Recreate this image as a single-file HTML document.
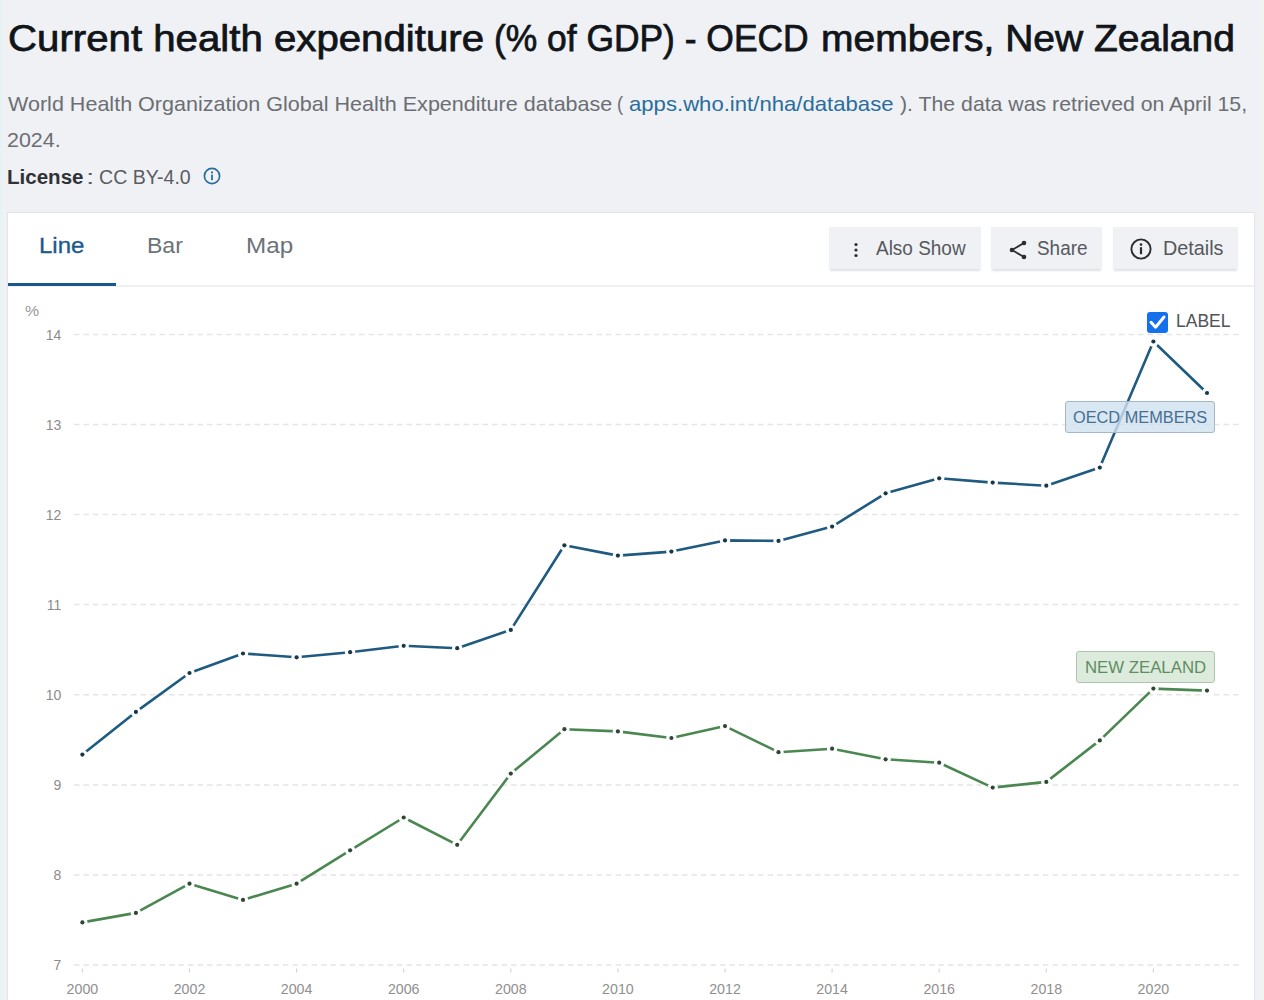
<!DOCTYPE html>
<html><head><meta charset="utf-8">
<style>
html,body{margin:0;padding:0;}
body{width:1264px;height:1000px;overflow:hidden;position:relative;background:#eff1f5;font-family:"Liberation Sans",sans-serif;}
.abs{position:absolute;}
.t{position:absolute;white-space:nowrap;transform-origin:0 0;}
#edgeL{position:absolute;left:0;top:0;width:2px;height:1000px;background:#e6f3f5;}
#edgeR{position:absolute;left:1259px;top:0;width:5px;height:1000px;background:#f2f2f2;}
#card{position:absolute;left:7px;top:212px;width:1248px;height:800px;background:#fff;border:1px solid #e2e4e8;box-sizing:border-box;}
#ul{position:absolute;left:8px;top:283px;width:108px;height:3px;background:#1a5690;}
#sep{position:absolute;left:8px;top:285px;width:1246px;height:2px;background:#eef0f2;}
.btn{position:absolute;top:227px;height:42px;background:#eff1f4;box-shadow:0 3px 2px -1px #dfe1e5;}
svg#chart{position:absolute;left:0;top:0;font-family:"Liberation Sans",sans-serif;}
.lbl{position:absolute;box-sizing:border-box;border-radius:3px;}
</style></head><body>
<div class="abs" id="edgeL"></div>
<div class="abs" id="edgeR"></div>
<svg class="abs" style="left:202px;top:166px" width="20" height="20" viewBox="0 0 20 20"><circle cx="10" cy="10" r="7.6" fill="none" stroke="#2a6d9c" stroke-width="1.7"/><circle cx="10" cy="6.4" r="1.1" fill="#2a6d9c"/><rect x="9.1" y="8.6" width="1.8" height="5.6" fill="#2a6d9c"/></svg>
<div class="abs" id="card"></div>
<div class="abs" id="sep"></div>
<div class="abs" id="ul"></div>
<div class="btn" style="left:829px;width:152px"></div>
<div class="btn" style="left:991px;width:111px"></div>
<div class="btn" style="left:1113px;width:125px"></div>
<svg class="abs" style="left:850px;top:240px" width="12" height="20" viewBox="0 0 12 20"><circle cx="6" cy="4.5" r="1.6" fill="#2b2e31"/><circle cx="6" cy="10" r="1.6" fill="#2b2e31"/><circle cx="6" cy="15.5" r="1.6" fill="#2b2e31"/></svg>
<svg class="abs" style="left:1007px;top:239px" width="22" height="22" viewBox="0 0 22 22"><path d="M17 4 L5 11 L17 18" fill="none" stroke="#2b2e31" stroke-width="1.8"/><circle cx="17" cy="4" r="2.3" fill="#2b2e31"/><circle cx="5" cy="11" r="2.3" fill="#2b2e31"/><circle cx="17" cy="18" r="2.3" fill="#2b2e31"/></svg>
<svg class="abs" style="left:1129px;top:237px" width="24" height="24" viewBox="0 0 24 24"><circle cx="12" cy="12" r="9.6" fill="none" stroke="#2b2e31" stroke-width="1.9"/><circle cx="12" cy="7.6" r="1.3" fill="#2b2e31"/><rect x="10.9" y="10.2" width="2.2" height="7" fill="#2b2e31"/></svg>
<svg class="abs" id="chart" width="1264" height="1000" viewBox="0 0 1264 1000">
<line x1="74" y1="334.6" x2="1240" y2="334.6" stroke="#e5e5e5" stroke-width="1.5" stroke-dasharray="5.5,4"/>
<line x1="74" y1="424.6" x2="1240" y2="424.6" stroke="#e5e5e5" stroke-width="1.5" stroke-dasharray="5.5,4"/>
<line x1="74" y1="514.6" x2="1240" y2="514.6" stroke="#e5e5e5" stroke-width="1.5" stroke-dasharray="5.5,4"/>
<line x1="74" y1="604.6" x2="1240" y2="604.6" stroke="#e5e5e5" stroke-width="1.5" stroke-dasharray="5.5,4"/>
<line x1="74" y1="694.8" x2="1240" y2="694.8" stroke="#e5e5e5" stroke-width="1.5" stroke-dasharray="5.5,4"/>
<line x1="74" y1="784.9" x2="1240" y2="784.9" stroke="#e5e5e5" stroke-width="1.5" stroke-dasharray="5.5,4"/>
<line x1="74" y1="874.9" x2="1240" y2="874.9" stroke="#e5e5e5" stroke-width="1.5" stroke-dasharray="5.5,4"/>
<line x1="74" y1="965.0" x2="1240" y2="965.0" stroke="#e5e5e5" stroke-width="1.5" stroke-dasharray="5.5,4"/>
<line x1="82.4" y1="968.5" y2="972.5" x2="82.4" stroke="#d2d2d2" stroke-width="1.1"/>
<line x1="189.5" y1="968.5" y2="972.5" x2="189.5" stroke="#d2d2d2" stroke-width="1.1"/>
<line x1="296.6" y1="968.5" y2="972.5" x2="296.6" stroke="#d2d2d2" stroke-width="1.1"/>
<line x1="403.7" y1="968.5" y2="972.5" x2="403.7" stroke="#d2d2d2" stroke-width="1.1"/>
<line x1="510.8" y1="968.5" y2="972.5" x2="510.8" stroke="#d2d2d2" stroke-width="1.1"/>
<line x1="617.9" y1="968.5" y2="972.5" x2="617.9" stroke="#d2d2d2" stroke-width="1.1"/>
<line x1="725.0" y1="968.5" y2="972.5" x2="725.0" stroke="#d2d2d2" stroke-width="1.1"/>
<line x1="832.1" y1="968.5" y2="972.5" x2="832.1" stroke="#d2d2d2" stroke-width="1.1"/>
<line x1="939.2" y1="968.5" y2="972.5" x2="939.2" stroke="#d2d2d2" stroke-width="1.1"/>
<line x1="1046.3" y1="968.5" y2="972.5" x2="1046.3" stroke="#d2d2d2" stroke-width="1.1"/>
<line x1="1153.4" y1="968.5" y2="972.5" x2="1153.4" stroke="#d2d2d2" stroke-width="1.1"/>
<polyline points="82.4,754.6 135.9,711.9 189.5,673.0 243.0,653.5 296.6,657.3 350.1,652.2 403.7,645.8 457.2,648.2 510.8,629.9 564.4,545.3 617.9,555.6 671.4,551.6 725.0,540.4 778.5,540.9 832.1,526.6 885.6,493.3 939.2,478.3 992.7,482.6 1046.3,485.7 1099.8,467.6 1153.4,341.5 1207.0,393.0" fill="none" stroke="#1f5a80" stroke-width="2.6" stroke-linejoin="round"/>
<polyline points="82.4,922.4 135.9,912.9 189.5,883.7 243.0,899.9 296.6,883.7 350.1,850.3 403.7,817.5 457.2,844.8 510.8,773.6 564.4,729.2 617.9,731.4 671.4,738.0 725.0,726.1 778.5,752.2 832.1,748.7 885.6,759.3 939.2,762.7 992.7,787.6 1046.3,781.9 1099.8,740.4 1153.4,688.6 1207.0,690.6" fill="none" stroke="#4b8750" stroke-width="2.6" stroke-linejoin="round"/>
<circle cx="82.4" cy="754.6" r="5.2" fill="#fff"/><circle cx="82.4" cy="754.6" r="2.1" fill="#16384c"/>
<circle cx="135.9" cy="711.9" r="5.2" fill="#fff"/><circle cx="135.9" cy="711.9" r="2.1" fill="#16384c"/>
<circle cx="189.5" cy="673.0" r="5.2" fill="#fff"/><circle cx="189.5" cy="673.0" r="2.1" fill="#16384c"/>
<circle cx="243.0" cy="653.5" r="5.2" fill="#fff"/><circle cx="243.0" cy="653.5" r="2.1" fill="#16384c"/>
<circle cx="296.6" cy="657.3" r="5.2" fill="#fff"/><circle cx="296.6" cy="657.3" r="2.1" fill="#16384c"/>
<circle cx="350.1" cy="652.2" r="5.2" fill="#fff"/><circle cx="350.1" cy="652.2" r="2.1" fill="#16384c"/>
<circle cx="403.7" cy="645.8" r="5.2" fill="#fff"/><circle cx="403.7" cy="645.8" r="2.1" fill="#16384c"/>
<circle cx="457.2" cy="648.2" r="5.2" fill="#fff"/><circle cx="457.2" cy="648.2" r="2.1" fill="#16384c"/>
<circle cx="510.8" cy="629.9" r="5.2" fill="#fff"/><circle cx="510.8" cy="629.9" r="2.1" fill="#16384c"/>
<circle cx="564.4" cy="545.3" r="5.2" fill="#fff"/><circle cx="564.4" cy="545.3" r="2.1" fill="#16384c"/>
<circle cx="617.9" cy="555.6" r="5.2" fill="#fff"/><circle cx="617.9" cy="555.6" r="2.1" fill="#16384c"/>
<circle cx="671.4" cy="551.6" r="5.2" fill="#fff"/><circle cx="671.4" cy="551.6" r="2.1" fill="#16384c"/>
<circle cx="725.0" cy="540.4" r="5.2" fill="#fff"/><circle cx="725.0" cy="540.4" r="2.1" fill="#16384c"/>
<circle cx="778.5" cy="540.9" r="5.2" fill="#fff"/><circle cx="778.5" cy="540.9" r="2.1" fill="#16384c"/>
<circle cx="832.1" cy="526.6" r="5.2" fill="#fff"/><circle cx="832.1" cy="526.6" r="2.1" fill="#16384c"/>
<circle cx="885.6" cy="493.3" r="5.2" fill="#fff"/><circle cx="885.6" cy="493.3" r="2.1" fill="#16384c"/>
<circle cx="939.2" cy="478.3" r="5.2" fill="#fff"/><circle cx="939.2" cy="478.3" r="2.1" fill="#16384c"/>
<circle cx="992.7" cy="482.6" r="5.2" fill="#fff"/><circle cx="992.7" cy="482.6" r="2.1" fill="#16384c"/>
<circle cx="1046.3" cy="485.7" r="5.2" fill="#fff"/><circle cx="1046.3" cy="485.7" r="2.1" fill="#16384c"/>
<circle cx="1099.8" cy="467.6" r="5.2" fill="#fff"/><circle cx="1099.8" cy="467.6" r="2.1" fill="#16384c"/>
<circle cx="1153.4" cy="341.5" r="5.2" fill="#fff"/><circle cx="1153.4" cy="341.5" r="2.1" fill="#16384c"/>
<circle cx="1207.0" cy="393.0" r="5.2" fill="#fff"/><circle cx="1207.0" cy="393.0" r="2.1" fill="#16384c"/>
<circle cx="82.4" cy="922.4" r="5.2" fill="#fff"/><circle cx="82.4" cy="922.4" r="2.1" fill="#2e4832"/>
<circle cx="135.9" cy="912.9" r="5.2" fill="#fff"/><circle cx="135.9" cy="912.9" r="2.1" fill="#2e4832"/>
<circle cx="189.5" cy="883.7" r="5.2" fill="#fff"/><circle cx="189.5" cy="883.7" r="2.1" fill="#2e4832"/>
<circle cx="243.0" cy="899.9" r="5.2" fill="#fff"/><circle cx="243.0" cy="899.9" r="2.1" fill="#2e4832"/>
<circle cx="296.6" cy="883.7" r="5.2" fill="#fff"/><circle cx="296.6" cy="883.7" r="2.1" fill="#2e4832"/>
<circle cx="350.1" cy="850.3" r="5.2" fill="#fff"/><circle cx="350.1" cy="850.3" r="2.1" fill="#2e4832"/>
<circle cx="403.7" cy="817.5" r="5.2" fill="#fff"/><circle cx="403.7" cy="817.5" r="2.1" fill="#2e4832"/>
<circle cx="457.2" cy="844.8" r="5.2" fill="#fff"/><circle cx="457.2" cy="844.8" r="2.1" fill="#2e4832"/>
<circle cx="510.8" cy="773.6" r="5.2" fill="#fff"/><circle cx="510.8" cy="773.6" r="2.1" fill="#2e4832"/>
<circle cx="564.4" cy="729.2" r="5.2" fill="#fff"/><circle cx="564.4" cy="729.2" r="2.1" fill="#2e4832"/>
<circle cx="617.9" cy="731.4" r="5.2" fill="#fff"/><circle cx="617.9" cy="731.4" r="2.1" fill="#2e4832"/>
<circle cx="671.4" cy="738.0" r="5.2" fill="#fff"/><circle cx="671.4" cy="738.0" r="2.1" fill="#2e4832"/>
<circle cx="725.0" cy="726.1" r="5.2" fill="#fff"/><circle cx="725.0" cy="726.1" r="2.1" fill="#2e4832"/>
<circle cx="778.5" cy="752.2" r="5.2" fill="#fff"/><circle cx="778.5" cy="752.2" r="2.1" fill="#2e4832"/>
<circle cx="832.1" cy="748.7" r="5.2" fill="#fff"/><circle cx="832.1" cy="748.7" r="2.1" fill="#2e4832"/>
<circle cx="885.6" cy="759.3" r="5.2" fill="#fff"/><circle cx="885.6" cy="759.3" r="2.1" fill="#2e4832"/>
<circle cx="939.2" cy="762.7" r="5.2" fill="#fff"/><circle cx="939.2" cy="762.7" r="2.1" fill="#2e4832"/>
<circle cx="992.7" cy="787.6" r="5.2" fill="#fff"/><circle cx="992.7" cy="787.6" r="2.1" fill="#2e4832"/>
<circle cx="1046.3" cy="781.9" r="5.2" fill="#fff"/><circle cx="1046.3" cy="781.9" r="2.1" fill="#2e4832"/>
<circle cx="1099.8" cy="740.4" r="5.2" fill="#fff"/><circle cx="1099.8" cy="740.4" r="2.1" fill="#2e4832"/>
<circle cx="1153.4" cy="688.6" r="5.2" fill="#fff"/><circle cx="1153.4" cy="688.6" r="2.1" fill="#2e4832"/>
<circle cx="1207.0" cy="690.6" r="5.2" fill="#fff"/><circle cx="1207.0" cy="690.6" r="2.1" fill="#2e4832"/>
<text x="61.4" y="339.56" text-anchor="end" style="font-size:14.0px" fill="#8c8c8c">14</text>
<text x="61.4" y="429.56" text-anchor="end" style="font-size:14.0px" fill="#8c8c8c">13</text>
<text x="61.4" y="519.56" text-anchor="end" style="font-size:14.0px" fill="#8c8c8c">12</text>
<text x="61.4" y="609.56" text-anchor="end" style="font-size:14.0px" fill="#8c8c8c">11</text>
<text x="61.4" y="699.76" text-anchor="end" style="font-size:14.0px" fill="#8c8c8c">10</text>
<text x="61.4" y="789.86" text-anchor="end" style="font-size:14.0px" fill="#8c8c8c">9</text>
<text x="61.4" y="879.86" text-anchor="end" style="font-size:14.0px" fill="#8c8c8c">8</text>
<text x="61.4" y="969.96" text-anchor="end" style="font-size:14.0px" fill="#8c8c8c">7</text>
<text x="82.4" y="994.2" text-anchor="middle" style="font-size:14.2px" fill="#8f8f8f">2000</text>
<text x="189.5" y="994.2" text-anchor="middle" style="font-size:14.2px" fill="#8f8f8f">2002</text>
<text x="296.6" y="994.2" text-anchor="middle" style="font-size:14.2px" fill="#8f8f8f">2004</text>
<text x="403.7" y="994.2" text-anchor="middle" style="font-size:14.2px" fill="#8f8f8f">2006</text>
<text x="510.8" y="994.2" text-anchor="middle" style="font-size:14.2px" fill="#8f8f8f">2008</text>
<text x="617.9" y="994.2" text-anchor="middle" style="font-size:14.2px" fill="#8f8f8f">2010</text>
<text x="725.0" y="994.2" text-anchor="middle" style="font-size:14.2px" fill="#8f8f8f">2012</text>
<text x="832.1" y="994.2" text-anchor="middle" style="font-size:14.2px" fill="#8f8f8f">2014</text>
<text x="939.2" y="994.2" text-anchor="middle" style="font-size:14.2px" fill="#8f8f8f">2016</text>
<text x="1046.3" y="994.2" text-anchor="middle" style="font-size:14.2px" fill="#8f8f8f">2018</text>
<text x="1153.4" y="994.2" text-anchor="middle" style="font-size:14.2px" fill="#8f8f8f">2020</text>
</svg>
<svg class="abs" style="left:1146px;top:311px" width="23" height="23" viewBox="0 0 23 23"><rect x="1" y="1" width="21" height="21" rx="3" fill="#1570eb"/><path d="M5 11.3 L9.6 16.2 L18 6" fill="none" stroke="#fff" stroke-width="3" stroke-linecap="round" stroke-linejoin="round"/></svg>
<div class="lbl" style="left:1065px;top:401px;width:150px;height:32px;background:rgba(208,225,240,0.8);border:1px solid #a3b7c9;"></div>
<div class="lbl" style="left:1076px;top:651px;width:139px;height:32px;background:rgba(212,230,212,0.8);border:1px solid #afc4b0;"></div>
<div class="t" id="title1" style="left:8.08px;top:21.02px;font-size:36.6px;line-height:36.6px;color:#111418;font-weight:400;transform:scaleX(1.0991);letter-spacing:0px;-webkit-text-stroke:0.75px #111418">Current health expenditure</div>
<div class="t" id="title2" style="left:494.16px;top:21.02px;font-size:36.6px;line-height:36.6px;color:#111418;font-weight:400;transform:scaleX(0.9675);letter-spacing:0px;-webkit-text-stroke:0.75px #111418">(% of GDP) - OECD</div>
<div class="t" id="title3" style="left:820.75px;top:21.02px;font-size:36.6px;line-height:36.6px;color:#111418;font-weight:400;transform:scaleX(1.0659);letter-spacing:0px;-webkit-text-stroke:0.75px #111418">members, New Zealand</div>
<div class="t" id="src1" style="left:7.58px;top:93.90px;font-size:20.2px;line-height:20.2px;color:#6b6e72;font-weight:400;transform:scaleX(1.0671);letter-spacing:0px">World Health Organization Global Health Expenditure database</div>
<div class="t" id="src1p" style="left:617.33px;top:93.90px;font-size:20.2px;line-height:20.2px;color:#6b6e72;font-weight:400;transform:scaleX(0.9017);letter-spacing:0px">(</div>
<div class="t" id="src1b" style="left:629.34px;top:93.90px;font-size:20.2px;line-height:20.2px;color:#6b6e72;font-weight:400;transform:scaleX(1.0961);letter-spacing:0px"><span style="color:#2a6d9c">apps.who.int/nha/database</span></div>
<div class="t" id="src1c" style="left:899.79px;top:93.90px;font-size:20.2px;line-height:20.2px;color:#6b6e72;font-weight:400;transform:scaleX(1.0533);letter-spacing:0px">). The data was retrieved on April 15,</div>
<div class="t" id="src2" style="left:6.72px;top:129.70px;font-size:20.2px;line-height:20.2px;color:#6b6e72;font-weight:400;transform:scaleX(1.0631);letter-spacing:0px">2024.</div>
<div class="t" id="lic1" style="left:7.00px;top:166.87px;font-size:20px;line-height:20px;color:#2f3236;font-weight:700;transform:scaleX(1.0274);letter-spacing:0px">License</div>
<div class="t" id="lic2" style="left:86.00px;top:166.87px;font-size:20px;line-height:20px;color:#5a5d61;font-weight:400;transform:scaleX(1.5000);letter-spacing:0px">:</div>
<div class="t" id="lic3" style="left:99.02px;top:166.87px;font-size:20px;line-height:20px;color:#5a5d61;font-weight:400;transform:scaleX(0.9783);letter-spacing:0px">CC BY-4.0</div>
<div class="t" id="tab1" style="left:39.40px;top:235.08px;font-size:22px;line-height:22px;color:#1c5a8c;font-weight:400;transform:scaleX(1.0908);letter-spacing:0px;-webkit-text-stroke:0.35px #1c5a8c">Line</div>
<div class="t" id="tab2" style="left:147.37px;top:235.08px;font-size:22px;line-height:22px;color:#6c7278;font-weight:400;transform:scaleX(1.0475);letter-spacing:0px">Bar</div>
<div class="t" id="tab3" style="left:246.20px;top:235.08px;font-size:22px;line-height:22px;color:#6c7278;font-weight:400;transform:scaleX(1.1009);letter-spacing:0px">Map</div>
<div class="t" id="b1" style="left:875.61px;top:239.06px;font-size:19.3px;line-height:19.3px;color:#55595d;font-weight:400;transform:scaleX(0.9835);letter-spacing:0px">Also Show</div>
<div class="t" id="b2" style="left:1036.80px;top:239.06px;font-size:19.3px;line-height:19.3px;color:#55595d;font-weight:400;transform:scaleX(0.9806);letter-spacing:0px">Share</div>
<div class="t" id="b3" style="left:1162.59px;top:239.06px;font-size:19.3px;line-height:19.3px;color:#55595d;font-weight:400;transform:scaleX(1.0257);letter-spacing:0px">Details</div>
<div class="t" id="lab" style="left:1175.54px;top:313.19px;font-size:17.5px;line-height:17.5px;color:#505458;font-weight:400;transform:scaleX(1.0006);letter-spacing:0px">LABEL</div>
<div class="t" id="oecdl" style="left:1073.24px;top:408.54px;font-size:17.2px;line-height:17.2px;color:#466f93;font-weight:400;transform:scaleX(0.9497);letter-spacing:0px">OECD MEMBERS</div>
<div class="t" id="nzl" style="left:1085.23px;top:658.94px;font-size:17.2px;line-height:17.2px;color:#5f8d62;font-weight:400;transform:scaleX(0.9754);letter-spacing:0px">NEW ZEALAND</div>
<div class="t" id="pct" style="left:24.93px;top:302.90px;font-size:15px;line-height:15px;color:#9a9a9a;font-weight:400;transform:scaleX(1.0588);letter-spacing:0px">%</div>
</body></html>
